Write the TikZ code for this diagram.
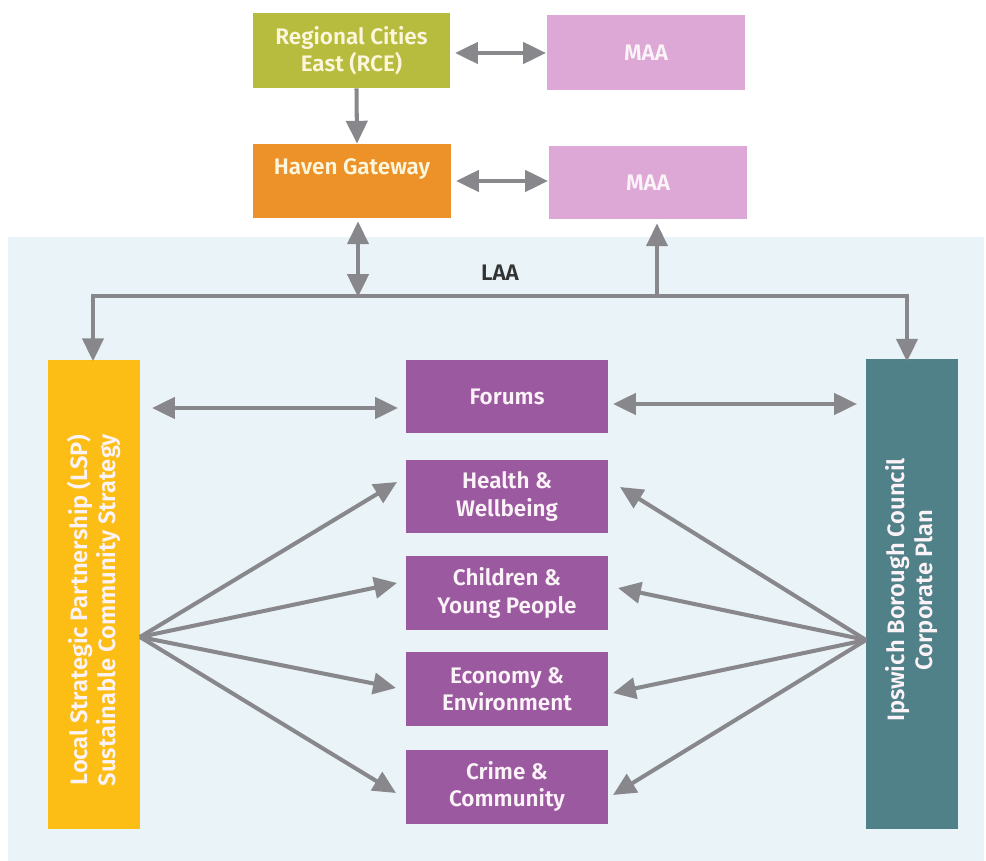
\documentclass[tikz,border=0pt]{standalone}
\usepackage{fontspec}
\setmainfont{Fira Sans}[BoldFont={Fira Sans SemiBold}]
\usetikzlibrary{arrows.meta,calc}
\definecolor{bgblue}{HTML}{EAF3F8}
\definecolor{rcecol}{HTML}{B7BC3E}
\definecolor{havencol}{HTML}{EC9228}
\definecolor{maacol}{HTML}{DDA8D6}
\definecolor{purplecol}{HTML}{9B59A0}
\definecolor{lspcol}{HTML}{FCBE14}
\definecolor{ipscol}{HTML}{508088}
\definecolor{arrcol}{HTML}{88888C}
\definecolor{txtwhite}{HTML}{FBF3F7}
\definecolor{txtcream}{HTML}{FCF6DC}
\tikzset{
  box/.style={inner sep=0pt, align=center, font=\fontsize{12.8}{15.5}\selectfont\bfseries},
  topbox/.style={box, minimum width=3.96cm, minimum height=1.5cm, text=txtcream},
  themebox/.style={box, fill=purplecol, minimum width=4.04cm, minimum height=1.48cm, text=txtwhite},
  sidebox/.style={box, minimum width=1.84cm, minimum height=9.4cm, text=txtwhite},
  sidetext/.style={box, text=txtwhite, rotate=90, font=\fontsize{13.5}{16}\selectfont\bfseries},
  conn/.style={draw=arrcol, line width=2.3pt, line join=miter},
  arr/.style={conn, -{Triangle[length=13pt,width=12pt]}},
  darr/.style={conn, {Triangle[length=13pt,width=12pt]}-{Triangle[length=13pt,width=12pt]}},
}
\begin{document}
\begin{tikzpicture}[x=0.02cm,y=-0.02cm]
\useasboundingbox (0,0) rectangle (986,861);
\fill[bgblue] (8,237) rectangle (984,861);
% top boxes
\node[topbox, fill=rcecol] (rce) at (351.5,50.5) {Regional Cities\\East (RCE)};
\node[topbox, fill=maacol, text=txtwhite] (maa1) at (646,52.5) {MAA};
\node[topbox, fill=havencol, minimum height=1.48cm] (haven) at (352,181) {};
\node[box, text=txtcream] (haventxt) at (352,169) {Haven Gateway};
\node[topbox, fill=maacol, text=txtwhite, minimum height=1.46cm] (maa2) at (648,182.5) {MAA};
% side boxes
\node[sidebox, fill=lspcol] (lsp) at (94,594.5) {};
\node[sidetext] (lsptxt) at (94,610) {Local Strategic Partnership (LSP)\\Sustainable Community Strategy};
\node[sidebox, fill=ipscol] (ips) at (912,594) {};
\node[sidetext] (ipstxt) at (912,590) {Ipswich Borough Council\\Corporate Plan};
% theme boxes
\node[themebox] (forums) at (507,396.5) {Forums};
\node[themebox] (health) at (507,496.5) {Health \&\\Wellbeing};
\node[themebox] (children) at (507,593) {Children \&\\Young People};
\node[themebox] (economy) at (507,689) {Economy \&\\Environment};
\node[themebox] (crime) at (507,786.5) {Crime \&\\Community};
% LAA label
\node[box, text=black!80] (laa) at (500,273) {LAA};
% top connectors
\draw[arr] ([xshift=0.1cm]rce.south) -- ([xshift=0.1cm]haven.north);
\coordinate (rceR) at (455,53);
\coordinate (maa1L) at (546,53);
\draw[darr] (rceR) -- (maa1L);
\coordinate (havR) at (456,181);
\coordinate (maa2L) at (548,181);
\draw[darr] (havR) -- (maa2L);
% LAA bar
\coordinate (barL) at (93,296);
\coordinate (barR) at (907,296);
\coordinate (barM) at (358,296);
\coordinate (barU) at (657,296);
\draw[darr] ([yshift=-0.04cm]lsp.north -| barL) -- (barL) -- (barR) -- ([yshift=-0.06cm]ips.north -| barR);
\draw[darr] ([yshift=-0.06cm]haven.south -| barM) -- ([yshift=-0.02cm]barM);
\draw[arr] ([yshift=0.02cm]barU) -- ([yshift=-0.08cm]maa2.south -| barU);
% forums links
\coordinate (lspF) at (152,408);
\coordinate (forL) at (398,408);
\draw[darr] (lspF) -- (forL);
\coordinate (forR) at (613,404);
\coordinate (ipsF) at (857,404);
\draw[darr] (forR) -- (ipsF);
% fans
\coordinate (lspO) at (140,637);
\coordinate (ipsO) at (866,640);
\draw[arr] (lspO) -- (397,482);
\draw[arr] (lspO) -- (397,583);
\draw[arr] (lspO) -- (396,688);
\draw[arr] (lspO) -- (396,793);
\draw[arr] (ipsO) -- (620,487);
\draw[arr] (ipsO) -- (618,588);
\draw[arr] (ipsO) -- (613,693);
\draw[arr] (ipsO) -- (613,795);
\end{tikzpicture}
\end{document}
